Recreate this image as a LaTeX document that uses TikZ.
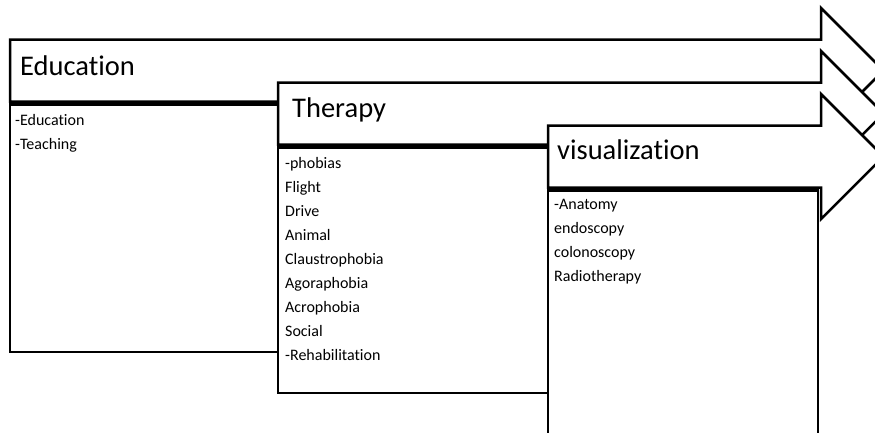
\documentclass[tikz,border=0pt]{standalone}
\usepackage{fontspec}
\setmainfont[Ligatures=NoCommon]{Carlito}
\usepackage{tikz}

\begin{document}
\begin{tikzpicture}[
    x=1pt, y=-1pt,
    band/.style={draw=black, fill=white, line width=2.5pt, line join=miter},
    panel/.style={draw=black, fill=white, line width=2.5pt},
    title/.style={anchor=base west, inner sep=0pt, font=\fontsize{28.5}{32}\selectfont},
    items/.style={anchor=north west, inner sep=0pt, align=left, font=\fontsize{16}{24}\selectfont}
  ]
    \clip (0,0) rectangle (875,432);

    % education
    \draw[band] (10,39.5) -- (821,39.5) -- (821,8) -- (883.5,70.5) -- (821,133) -- (821,101.5) -- (10,101.5) -- cycle;
    \draw[panel] (10,104.5) rectangle (278,352);
    \node[title] (edu) at (20,75) {Education};
    \node[items] (edulist) at (15,114.5) {-Education\\-Teaching};

    % therapy
    \draw[band] (278,82.5) -- (821,82.5) -- (821,51) -- (883.5,113.5) -- (821,176) -- (821,144.5) -- (278,144.5) -- cycle;
    \draw[panel] (278,147.5) rectangle (548,393);
    \node[title] (ther) at (292,117) {Therapy};
    \node[items] (therlist) at (285,157.5) {-phobias\\Flight\\Drive\\Animal\\Claustrophobia\\Agoraphobia\\Acrophobia\\Social\\-Rehabilitation};

    % visualization
    \draw[band] (548,125.5) -- (821,125.5) -- (821,94) -- (883.5,156.5) -- (821,219) -- (821,187.5) -- (548,187.5) -- cycle;
    \draw[panel] (548,190.5) rectangle (818,445);
    \node[title] (vis) at (557,159) {visualization};
    \node[items] (vislist) at (554,199.5) {-Anatomy\\endoscopy\\colonoscopy\\Radiotherapy};
\end{tikzpicture}
\end{document}
